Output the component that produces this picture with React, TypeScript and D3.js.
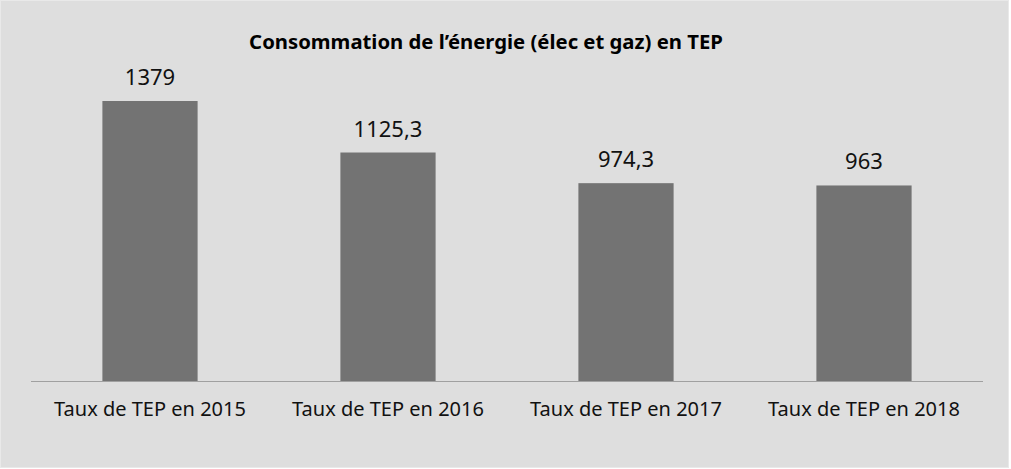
import * as d3 from "d3";
import { useEffect, useRef } from "react";

const categories = [
  "Taux de TEP en 2015",
  "Taux de TEP en 2016",
  "Taux de TEP en 2017",
  "Taux de TEP en 2018",
];
const values = [1379, 1125.3, 974.3, 963];
const valueLabels = ["1379", "1125,3", "974,3", "963"];
const title = "Consommation de l’énergie (élec et gaz) en TEP";

function BarChart({ width = 1011, height = 469 }) {
  const ref = useRef<SVGSVGElement>(null);

  useEffect(() => {
    const svg = d3.select(ref.current);
    svg.selectAll("*").remove();

    const x = d3
      .scaleBand()
      .domain(categories)
      .range([31, 983])
      .paddingInner(0.6)
      .paddingOuter(0.3);

    const y = d3.scaleLinear().domain([0, 1379]).range([381, 101]);

    svg
      .append("rect")
      .attr("x", 0.5)
      .attr("y", 0.5)
      .attr("width", width - 3)
      .attr("height", height - 2)
      .attr("fill", "#dedede")
      .attr("stroke", "#e9e9e9");

    svg
      .append("text")
      .attr("x", 486)
      .attr("y", 49)
      .attr("text-anchor", "middle")
      .attr("font-weight", "bold")
      .attr("font-size", 20.3)
      .attr("fill", "#000")
      .text(title);

    const bars = svg
      .append("g")
      .selectAll("g")
      .data(values)
      .join("g");

    bars
      .append("rect")
      .attr("x", (d, i) => x(categories[i])!)
      .attr("y", (d) => y(d))
      .attr("width", x.bandwidth())
      .attr("height", (d) => y(0) - y(d))
      .attr("fill", "#737373");

    bars
      .append("text")
      .attr("x", (d, i) => x(categories[i])! + x.bandwidth() / 2)
      .attr("y", (d) => y(d) - 16)
      .attr("text-anchor", "middle")
      .attr("font-size", 22)
      .attr("fill", "#111")
      .text((d, i) => valueLabels[i]);

    const axis = svg
      .append("g")
      .attr("transform", `translate(0,${y(0)})`)
      .call(d3.axisBottom(x).tickSize(0).tickPadding(0));

    axis.select(".domain").attr("stroke", "#a0a0a0").attr("d", "M31,0.5H983");
    axis
      .selectAll(".tick text")
      .attr("font-size", 20)
      .attr("font-family", "Noto Sans")
      .attr("fill", "#111")
      .attr("dy", null)
      .attr("y", 35);
  }, []);

  return (
    <svg
      ref={ref}
      width={width}
      height={height}
      fontFamily="Noto Sans"
      style={{ position: "absolute", left: 0, top: 0, display: "block" }}
    ></svg>
  );
}

export default function App() {
  return <BarChart />;
}
